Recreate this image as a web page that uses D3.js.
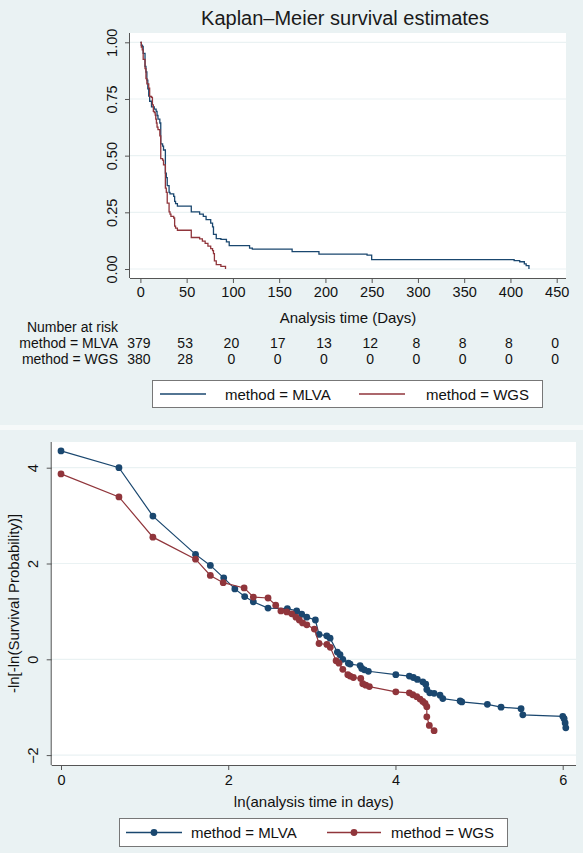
<!DOCTYPE html>
<html>
<head>
<meta charset="utf-8">
<script src="https://cdn.jsdelivr.net/npm/d3@7"></script>
<style>
  html, body { margin: 0; padding: 0; background: #eaf2f3; }
  svg { display: block; }
  text { font-family: "Liberation Sans", Arial, sans-serif; fill: #111; }
</style>
</head>
<body>
<svg id="chart" width="583" height="853"></svg>
<script>
// ---------------- DATA ----------------
const groups = ["method = MLVA", "method = WGS"];
const colors = ["#1a476f", "#90353b"];

// Kaplan-Meier step estimates (time in days, survival probability)
const kmTimeMLVA = [0,1,2,3,5,6,7,8,9,10,12,15,17,18,19,21,22,24,25,27,28,29,31,32,36,37,38,40,55,64,68,71,76,78,79,82,87,93,96,118,121,164,193,245,250,404,410,415,417,420];
const kmSurvMLVA = [1,0.987,0.982,0.951,0.894,0.869,0.833,0.795,0.763,0.740,0.715,0.705,0.695,0.677,0.661,0.644,0.552,0.542,0.525,0.423,0.403,0.368,0.338,0.331,0.320,0.298,0.288,0.277,0.252,0.242,0.232,0.218,0.202,0.186,0.153,0.134,0.131,0.120,0.103,0.092,0.088,0.077,0.066,0.061,0.041,0.037,0.032,0.023,0.015,0.000];
const kmTimeWGS = [0,1,2,3,5,6,7,9,10,12,13,14,15,16,16.6,17.3,18,19,21,22,24,25,27,28,29,31,32,33,36,37,38,40,55,64,67,70,73,76,78,79,80,82,87,92];
const kmSurvWGS = [1,0.979,0.967,0.925,0.884,0.840,0.817,0.798,0.761,0.757,0.724,0.695,0.690,0.679,0.661,0.644,0.626,0.615,0.587,0.487,0.480,0.459,0.357,0.338,0.291,0.252,0.242,0.232,0.225,0.189,0.180,0.171,0.139,0.133,0.123,0.113,0.101,0.090,0.081,0.068,0.036,0.019,0.012,0.000];

const kmXTicks = [0,50,100,150,200,250,300,350,400,450];
const kmYTicks = [0,0.25,0.5,0.75,1];
const riskMLVA = [379,53,20,17,13,12,8,8,8,0];
const riskWGS  = [380,28,0,0,0,0,0,0,0,0];

// log-log plot: ln(time) and -ln[-ln(S)]
const llLnTimeMLVA = [0,0.693,1.099,1.609,1.786,1.946,2.079,2.197,2.30,2.476,2.707,2.819,2.879,2.939,3.042,3.086,3.178,3.218,3.305,3.337,3.370,3.437,3.457,3.577,3.597,3.628,3.676,4.004,4.166,4.214,4.262,4.327,4.362,4.375,4.410,4.462,4.533,4.566,4.773,4.793,5.099,5.263,5.502,5.523,6.001,6.017,6.029,6.037];
const llValMLVA    = [4.35,4.0,2.99,2.19,1.96,1.70,1.47,1.31,1.20,1.07,1.06,1.01,0.94,0.88,0.82,0.52,0.49,0.44,0.15,0.096,0.0,-0.08,-0.10,-0.13,-0.19,-0.22,-0.25,-0.32,-0.35,-0.38,-0.42,-0.47,-0.52,-0.63,-0.70,-0.71,-0.75,-0.82,-0.87,-0.89,-0.94,-1.00,-1.03,-1.16,-1.19,-1.24,-1.33,-1.43];
const llLnTimeWGS = [0,0.693,1.099,1.609,1.786,1.94,2.19,2.30,2.476,2.568,2.63,2.70,2.76,2.81,2.85,2.89,2.94,3.03,3.086,3.18,3.22,3.29,3.325,3.37,3.43,3.457,3.497,3.585,3.609,3.645,3.688,4.004,4.166,4.207,4.255,4.294,4.327,4.354,4.375,4.375,4.405,4.462];
const llValWGS    = [3.87,3.39,2.55,2.09,1.75,1.60,1.49,1.30,1.28,1.13,1.01,0.99,0.95,0.88,0.82,0.76,0.72,0.63,0.33,0.31,0.25,-0.03,-0.08,-0.21,-0.32,-0.35,-0.38,-0.40,-0.51,-0.54,-0.57,-0.68,-0.70,-0.74,-0.78,-0.83,-0.88,-0.92,-0.99,-1.20,-1.38,-1.49];
const llXTicks = [0,2,4,6];
const llYTicks = [-2,0,2,4];

// ---------------- DRAW ----------------
const svg = d3.select("#chart");
const BG = "#eaf2f3", GRID = "#eaf2f3", AXIS = "#555";

// panels
svg.append("rect").attr("x",0).attr("y",0).attr("width",583).attr("height",853).attr("fill",BG);
svg.append("rect").attr("x",0).attr("y",425).attr("width",583).attr("height",5).attr("fill","#f6f9f9");

// ===== Top: Kaplan-Meier =====
const t = {L:130, R:566, T:33, B:278};
const xK = d3.scaleLinear().domain([0,450]).range([140.4,556.7]);
const yK = d3.scaleLinear().domain([0,1]).range([269,42.3]);

svg.append("rect").attr("x",t.L).attr("y",t.T).attr("width",t.R-t.L).attr("height",t.B-t.T).attr("fill","#fff");
svg.append("g").selectAll("line").data(kmYTicks).join("line")
  .attr("x1",t.L).attr("x2",t.R).attr("y1",d=>yK(d)).attr("y2",d=>yK(d))
  .attr("stroke",GRID).attr("stroke-width",1.2);

svg.append("text").attr("x",345).attr("y",25).attr("text-anchor","middle")
  .style("font-size","20px").style("fill","#1a1a1a").text("Kaplan\u2013Meier survival estimates");

const gxK = svg.append("g").attr("transform",`translate(0,${t.B})`)
  .call(d3.axisBottom(xK).tickValues(kmXTicks).tickSize(5).tickPadding(4).tickFormat(d3.format("d")));
gxK.select(".domain").attr("d",`M${t.L},0.5H${t.R}`);
const gyK = svg.append("g").attr("transform",`translate(${t.L},0)`)
  .call(d3.axisLeft(yK).tickValues(kmYTicks).tickSize(5).tickPadding(4).tickFormat(d3.format(".2f")));
gyK.select(".domain").attr("d",`M-0.5,${t.T}V${t.B}`);
gyK.selectAll(".tick text").attr("transform","rotate(-90)").attr("text-anchor","middle")
  .attr("x",0).attr("y",-13).attr("dy","0");
[gxK,gyK].forEach(g=>{
  g.select(".domain").attr("stroke",AXIS);
  g.selectAll(".tick line").attr("stroke",AXIS);
  g.selectAll(".tick text").style("font-size","14.5px").style("font-family","Liberation Sans, Arial, sans-serif").attr("fill","#111");
});

const kmLine = d3.line().x(d=>xK(d[0])).y(d=>yK(d[1])).curve(d3.curveStepAfter);
const kmSeries = [d3.zip(kmTimeMLVA,kmSurvMLVA), d3.zip(kmTimeWGS,kmSurvWGS)];
kmSeries.forEach((s,i)=>{
  svg.append("path").datum(s).attr("d",kmLine).attr("fill","none")
    .attr("stroke",colors[i]).attr("stroke-width",1.3);
});

svg.append("text").attr("x",(t.L+t.R)/2).attr("y",323).attr("text-anchor","middle")
  .style("font-size","15px").text("Analysis time (Days)");

// risk table
const rowY = [347.5, 363.5];
svg.append("text").attr("x",118).attr("y",332).attr("text-anchor","end").style("font-size","14px").text("Number at risk");
svg.append("text").attr("x",118).attr("y",rowY[0]).attr("text-anchor","end").style("font-size","14px").text(groups[0]);
svg.append("text").attr("x",118).attr("y",rowY[1]).attr("text-anchor","end").style("font-size","14px").text(groups[1]);
[riskMLVA,riskWGS].forEach((r,i)=>{
  svg.append("g").selectAll("text").data(r).join("text")
    .attr("x",(d,j)=>xK(kmXTicks[j])-1.5).attr("y",rowY[i]).attr("text-anchor","middle")
    .style("font-size","14px").text(d=>d);
});

// top legend
const lgT = svg.append("g");
lgT.append("rect").attr("x",152.5).attr("y",380.5).attr("width",390).attr("height",27)
  .attr("fill","#fff").attr("stroke","#777").attr("stroke-width",1);
[[160,206,225],[359,405,426]].forEach((p,i)=>{
  lgT.append("line").attr("x1",p[0]).attr("x2",p[1]).attr("y1",394).attr("y2",394)
    .attr("stroke",colors[i]).attr("stroke-width",1.3);
  lgT.append("text").attr("x",p[2]).attr("y",399.5).style("font-size","15px").text(groups[i]);
});

// ===== Bottom: log-log =====
const b = {L:51.7, R:576, T:442, B:765};
const xL = d3.scaleLinear().domain([0,6]).range([61,562.7]);
const yL = d3.scaleLinear().domain([-2,4]).range([755.1,467.7]);

svg.append("rect").attr("x",b.L).attr("y",b.T).attr("width",b.R-b.L).attr("height",b.B-b.T).attr("fill","#fff");
svg.append("g").selectAll("line").data(llYTicks).join("line")
  .attr("x1",b.L).attr("x2",b.R).attr("y1",d=>yL(d)).attr("y2",d=>yL(d))
  .attr("stroke",GRID).attr("stroke-width",1.2);

const gxL = svg.append("g").attr("transform",`translate(0,${b.B})`)
  .call(d3.axisBottom(xL).tickValues(llXTicks).tickSize(5).tickPadding(5).tickFormat(d3.format("d")));
gxL.select(".domain").attr("d",`M${b.L},0.5H${b.R}`);
const gyL = svg.append("g").attr("transform",`translate(${b.L},0)`)
  .call(d3.axisLeft(yL).tickValues(llYTicks).tickSize(5).tickPadding(4).tickFormat(d3.format("d")));
gyL.select(".domain").attr("d",`M-0.5,${b.T}V${b.B}`);
gyL.selectAll(".tick text").attr("transform","rotate(-90)").attr("text-anchor","middle")
  .attr("x",0).attr("y",-14).attr("dy","0");
[gxL,gyL].forEach(g=>{
  g.select(".domain").attr("stroke",AXIS);
  g.selectAll(".tick line").attr("stroke",AXIS);
  g.selectAll(".tick text").style("font-size","14.5px").style("font-family","Liberation Sans, Arial, sans-serif").attr("fill","#111");
});

const llSeries = [d3.zip(llLnTimeMLVA,llValMLVA), d3.zip(llLnTimeWGS,llValWGS)];
const llLine = d3.line().x(d=>xL(d[0])).y(d=>yL(d[1]));
llSeries.forEach((s,i)=>{
  const g = svg.append("g");
  g.append("path").datum(s).attr("d",llLine).attr("fill","none")
    .attr("stroke",colors[i]).attr("stroke-width",1.2);
  g.selectAll("circle").data(s).join("circle")
    .attr("cx",d=>xL(d[0])).attr("cy",d=>yL(d[1])).attr("r",3.4).attr("fill",colors[i]);
});

svg.append("text").attr("x",(b.L+b.R)/2).attr("y",807).attr("text-anchor","middle")
  .style("font-size","15px").text("ln(analysis time in days)");
svg.append("text").attr("transform",`translate(19,${(b.T+b.B)/2}) rotate(-90)`).attr("text-anchor","middle")
  .style("font-size","15px").text("-ln[-ln(Survival Probability)]");

// bottom legend
const lgB = svg.append("g");
lgB.append("rect").attr("x",119.5).attr("y",818.5).attr("width",388).attr("height",28)
  .attr("fill","#fff").attr("stroke","#777").attr("stroke-width",1);
[[126,182,191],[327,381,391]].forEach((p,i)=>{
  lgB.append("line").attr("x1",p[0]).attr("x2",p[1]).attr("y1",832.5).attr("y2",832.5)
    .attr("stroke",colors[i]).attr("stroke-width",1.3);
  lgB.append("circle").attr("cx",(p[0]+p[1])/2).attr("cy",832.5).attr("r",3.4).attr("fill",colors[i]);
  lgB.append("text").attr("x",p[2]).attr("y",838).style("font-size","15px").text(groups[i]);
});
</script>
</body>
</html>
